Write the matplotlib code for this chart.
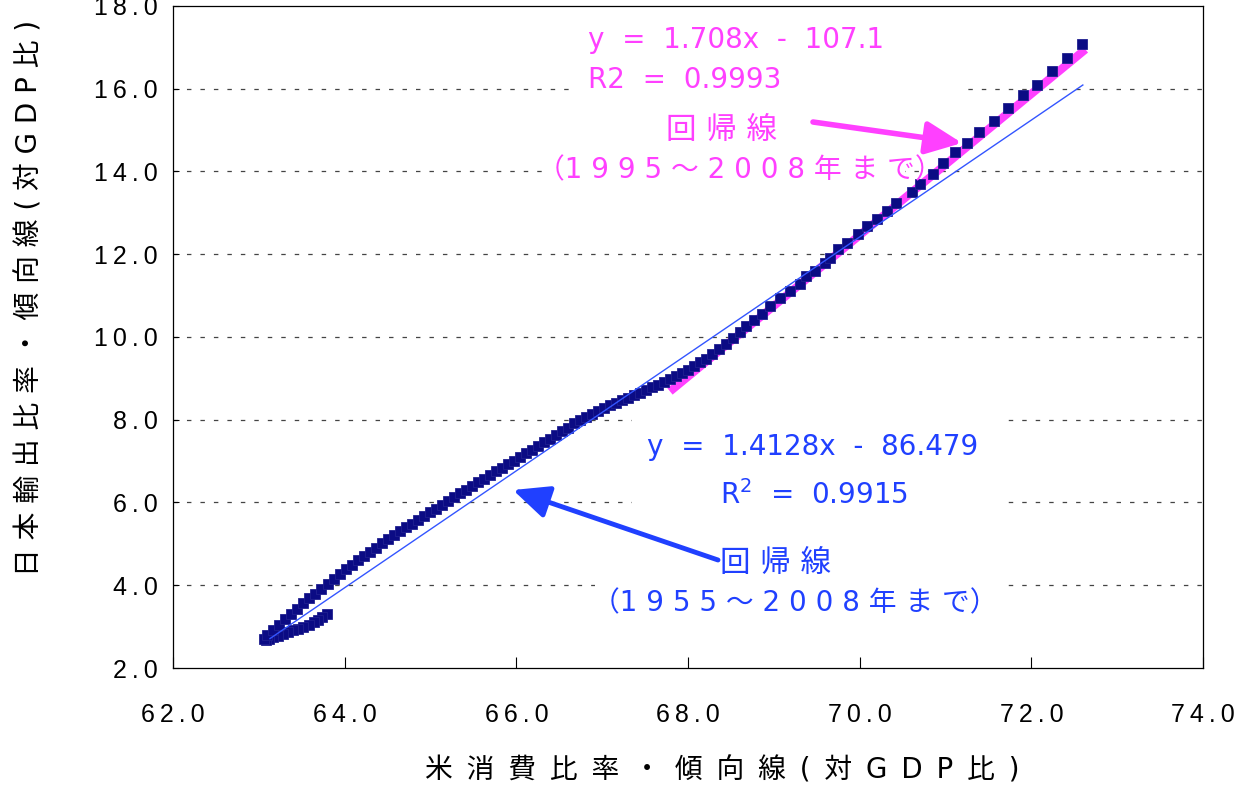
import matplotlib
matplotlib.use("Agg")
import matplotlib.pyplot as plt
from matplotlib.patches import Rectangle

plt.rcParams['font.family'] = ['DejaVu Sans', 'Noto Sans CJK JP']
plt.rcParams['lines.scale_dashes'] = False

# ---------------- data ----------------
# US consumption ratio trend (x) vs Japan export ratio trend (y), 1955-2008
hook_x = [63.79, 63.74, 63.69, 63.64, 63.58, 63.52, 63.46, 63.40, 63.34, 63.28,
          63.22, 63.17, 63.12, 63.08, 63.06]
hook_y = [3.30, 3.24, 3.17, 3.11, 3.05, 3.00, 2.95, 2.91, 2.86, 2.82,
          2.78, 2.74, 2.70, 2.68, 2.70]

main_x = [63.10, 63.17, 63.24, 63.31, 63.38, 63.45, 63.52, 63.59, 63.66, 63.73,
          63.80, 63.87, 63.94, 64.01, 64.08, 64.15, 64.22, 64.29, 64.36, 64.43,
          64.50, 64.57, 64.64, 64.71, 64.78, 64.85, 64.92, 64.99, 65.06, 65.13,
          65.20, 65.27, 65.34, 65.41, 65.48, 65.55, 65.62, 65.69, 65.76, 65.83,
          65.90, 65.97, 66.04, 66.11, 66.18, 66.25, 66.32, 66.39, 66.46, 66.53,
          66.60, 66.67, 66.74, 66.81, 66.88, 66.95, 67.02, 67.09, 67.16, 67.23,
          67.30, 67.37, 67.44, 67.51, 67.58, 67.65, 67.72, 67.79, 67.86, 67.93,
          68.00, 68.07, 68.14, 68.21, 68.28, 68.36, 68.44, 68.52, 68.60, 68.68,
          68.77]
main_y = [2.80, 2.93, 3.05, 3.18, 3.30, 3.43, 3.56, 3.68, 3.80, 3.92,
          4.03, 4.15, 4.27, 4.39, 4.49, 4.60, 4.70, 4.80, 4.91, 5.01,
          5.11, 5.21, 5.30, 5.40, 5.49, 5.58, 5.67, 5.76, 5.85, 5.94,
          6.03, 6.13, 6.22, 6.31, 6.40, 6.49, 6.58, 6.67, 6.76, 6.84,
          6.93, 7.01, 7.10, 7.19, 7.28, 7.37, 7.46, 7.54, 7.63, 7.72,
          7.81, 7.91, 8.00, 8.07, 8.15, 8.22, 8.29, 8.35, 8.41, 8.47,
          8.53, 8.59, 8.65, 8.72, 8.78, 8.85, 8.91, 8.98, 9.05, 9.12,
          9.21, 9.30, 9.39, 9.48, 9.58, 9.70, 9.84, 9.98, 10.12, 10.26,
          10.41]

top_x = [68.86, 68.96, 69.07, 69.19, 69.31, 69.38, 69.48, 69.60, 69.65, 69.75,
         69.85, 69.98, 70.08, 70.20, 70.32, 70.42, 70.61, 70.70, 70.85, 70.97,
         71.11, 71.25, 71.39, 71.57, 71.73, 71.90, 72.07, 72.24, 72.41, 72.59]
top_y = [10.55, 10.75, 10.95, 11.11, 11.27, 11.47, 11.59, 11.80, 11.92, 12.12,
         12.28, 12.48, 12.68, 12.86, 13.05, 13.23, 13.51, 13.69, 13.95, 14.20,
         14.46, 14.70, 14.96, 15.21, 15.53, 15.86, 16.10, 16.42, 16.75, 17.07]

# regression lines (slope, intercept, x-range)
fit_all = (1.4128, -86.479)      # 1955-2008
fit_all_x = [63.13, 72.60]
fit_recent = (1.708, -107.1)     # 1995-2008
fit_recent_x = [67.79, 72.63]

y_ticks = [2.0, 4.0, 6.0, 8.0, 10.0, 12.0, 14.0, 16.0, 18.0]
x_ticks = [62.0, 64.0, 66.0, 68.0, 70.0, 72.0, 74.0]

xlabel = "米消費比率・傾向線(対GDP比)"
ylabel = "日本輸出比率・傾向線(対GDP比)"

# ---------------- figure ----------------
W, H = 1236, 787
fig = plt.figure(figsize=(W / 100, H / 100), dpi=100)
ax = fig.add_axes([173 / W, 1 - 668 / H, (1203 - 173) / W, (668 - 6) / H])


def fx(px):
    return px / W


def fy(py):
    return 1 - py / H


MAG = '#FF40FF'
BLUE_T = '#2040FF'
BLUE_L = '#3355FF'
NAVY = '#0B0B84'
TICKFONT = ['Liberation Sans', 'DejaVu Sans']

ax.set_xlim(62, 74)
ax.set_ylim(2, 18)

for yv in y_ticks[1:-1]:
    ax.axhline(yv, color='#444444', lw=0.9, ls=(0, (3.2, 6.5)), zorder=0.5)

# white areas behind text boxes
for (x0, y0, x1, y1) in [(575, 18, 965, 100), (545, 104, 905, 192),
                         (632, 418, 1000, 520), (595, 540, 1000, 625)]:
    ax.add_patch(Rectangle((fx(x0), fy(y1)), fx(x1) - fx(x0), fy(y0) - fy(y1),
                           transform=fig.transFigure, facecolor='white',
                           edgecolor='none', zorder=1, clip_on=False))

# recent regression (thick magenta)
rx = fit_recent_x
ax.plot(rx, [fit_recent[0] * v + fit_recent[1] for v in rx], color=MAG,
        lw=6, solid_capstyle='butt', zorder=2)

# data points
ax.plot(hook_x + main_x + top_x, hook_y + main_y + top_y, ls='none',
        marker='s', ms=7.5, color=NAVY, markeredgecolor='#202090',
        markeredgewidth=0.6, zorder=3)

# full-period regression (thin blue)
ax.plot(fit_all_x, [fit_all[0] * v + fit_all[1] for v in fit_all_x],
        color=BLUE_L, lw=1.0, zorder=4)

# ticks / spines
ax.set_xticks(x_ticks)
ax.set_yticks(y_ticks)
fmt = lambda v, p: '\u2009'.join(f'{v:.1f}')
ax.xaxis.set_major_formatter(plt.FuncFormatter(fmt))
ax.yaxis.set_major_formatter(plt.FuncFormatter(fmt))
ax.tick_params(axis='x', direction='in', length=8, width=0.8, pad=25,
               labelsize=18, colors='black')
ax.tick_params(axis='y', direction='in', length=4, width=0.8, pad=11,
               labelsize=18, colors='black')
for lab in ax.get_xticklabels() + ax.get_yticklabels():
    lab.set_fontfamily(TICKFONT)
for s in ax.spines.values():
    s.set_linewidth(0.9)
    s.set_color('black')

# axis labels
fig.text(fx(722), fy(770), '\u2002'.join(xlabel), ha='center', va='center',
         fontsize=20, color='black')
fig.text(fx(30), fy(298), ' '.join(ylabel), ha='center', va='center',
         rotation=90, fontsize=20, color='black')

# annotations (magenta, 1995-2008)
fig.text(fx(588), fy(40), 'y  =  1.708x  -  107.1', ha='left', va='center',
         fontsize=20, color=MAG, zorder=5)
fig.text(fx(588), fy(80), 'R2  =  0.9993', ha='left', va='center',
         fontsize=20, color=MAG, zorder=5)
fig.text(fx(722), fy(130), ' '.join('回帰線'), ha='center', va='center',
         fontsize=22, color=MAG, zorder=5)
fig.text(fx(740), fy(170), '（' + ' '.join('1995〜2008年まで') + '）',
         ha='center', va='center', fontsize=20, color=MAG, zorder=5)
ax.annotate('', xy=(fx(962), fy(143)), xytext=(fx(813), fy(122)),
            xycoords='figure fraction', textcoords='figure fraction',
            arrowprops=dict(arrowstyle='-|>,head_length=1.1,head_width=0.5',
                            color=MAG, lw=4, mutation_scale=20,
                            shrinkA=0, shrinkB=0), zorder=5)

# annotations (blue, 1955-2008)
fig.text(fx(813), fy(447), 'y  =  1.4128x  -  86.479', ha='center',
         va='center', fontsize=20, color=BLUE_T, zorder=5)
fig.text(fx(814), fy(495), 'R$^{2}$  =  0.9915', ha='center', va='center',
         fontsize=20, color=BLUE_T, zorder=5)
fig.text(fx(775), fy(563), ' '.join('回帰線'), ha='center', va='center',
         fontsize=22, color=BLUE_T, zorder=5)
fig.text(fx(795), fy(603), '（' + ' '.join('1955〜2008年まで') + '）',
         ha='center', va='center', fontsize=20, color=BLUE_T, zorder=5)
ax.annotate('', xy=(fx(513), fy(490)), xytext=(fx(718), fy(560)),
            xycoords='figure fraction', textcoords='figure fraction',
            arrowprops=dict(arrowstyle='-|>,head_length=1.1,head_width=0.5',
                            color=BLUE_T, lw=3.5, mutation_scale=20,
                            shrinkA=0, shrinkB=0), zorder=5)

fig.savefig('out.png', dpi=100)
